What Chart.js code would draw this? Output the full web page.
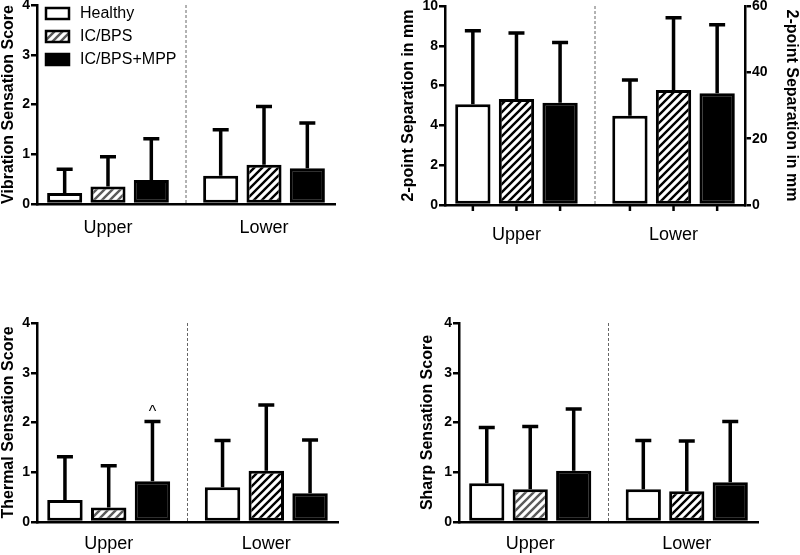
<!DOCTYPE html>
<html>
<head>
<meta charset="utf-8">
<script src="https://cdn.jsdelivr.net/npm/chart.js@4.4.1/dist/chart.umd.min.js"></script>
<style>
  body { margin: 0; background: #fff; width: 800px; height: 555px; position: relative; overflow: hidden; }
  canvas { position: absolute; }
</style>
</head>
<body>
<canvas id="vib" width="400" height="290" style="left:0;top:-10px"></canvas>
<canvas id="twoPoint" width="400" height="290" style="left:400px;top:-10px"></canvas>
<canvas id="thermal" width="400" height="265" style="left:0;top:290px"></canvas>
<canvas id="sharp" width="400" height="265" style="left:400px;top:290px"></canvas>
<script>
// groups and x categories
const groups = ['Healthy', 'IC/BPS', 'IC/BPS+MPP'];
const regions = ['Upper', 'Lower'];

// vibration sensation score (mean, SD)  [Upper, Lower]
const vibHealthy = [0.22, 0.57];
const vibHealthySd = [0.48, 0.92];
const vibIcbps = [0.35, 0.79];
const vibIcbpsSd = [0.60, 1.17];
const vibMpp = [0.48, 0.72];
const vibMppSd = [0.83, 0.91];

// 2-point separation in mm
const tpHealthy = [5.06, 4.49];
const tpHealthySd = [3.70, 1.79];
const tpIcbps = [5.33, 5.78];
const tpIcbpsSd = [3.31, 3.63];
const tpMpp = [5.14, 5.61];
const tpMppSd = [3.03, 3.45];

// thermal sensation score
const thHealthy = [0.44, 0.70];
const thHealthySd = [0.87, 0.94];
const thIcbps = [0.29, 1.03];
const thIcbpsSd = [0.84, 1.32];
const thMpp = [0.82, 0.58];
const thMppSd = [1.20, 1.07];
const thMppMarks = ['^', ''];

// sharp sensation score
const shHealthy = [0.78, 0.66];
const shHealthySd = [1.12, 0.98];
const shIcbps = [0.66, 0.62];
const shIcbpsSd = [1.26, 1.01];
const shMpp = [1.03, 0.80];
const shMppSd = [1.24, 1.22];

Chart.defaults.font.family = "'Liberation Sans', Arial, sans-serif";
Chart.defaults.color = '#000';

function hatch(color) {
  const c = document.createElement('canvas');
  c.width = 8; c.height = 8;
  const g = c.getContext('2d');
  g.fillStyle = '#fff';
  g.fillRect(0, 0, 8, 8);
  g.strokeStyle = color;
  g.lineWidth = 2.4;
  g.beginPath();
  g.moveTo(0, 8); g.lineTo(8, 0);
  g.moveTo(-4, 4); g.lineTo(4, -4);
  g.moveTo(4, 12); g.lineTo(12, 4);
  g.stroke();
  return g.createPattern(c, 'repeat');
}
const grayHatch = hatch('#5a5a5a');
const blackHatch = hatch('#000');

const errorBars = {
  id: 'errorBars',
  beforeDatasetsDraw(chart) {
    const { ctx, chartArea } = chart;
    const xs = chart.scales.x, ys = chart.scales.y;
    // dashed separator between Upper and Lower
    const mx = xs.getPixelForValue(0.5);
    ctx.save();
    ctx.strokeStyle = '#666';
    ctx.lineWidth = 1;
    ctx.setLineDash([3, 2]);
    ctx.beginPath();
    ctx.moveTo(mx, chartArea.top);
    ctx.lineTo(mx, chartArea.bottom);
    ctx.stroke();
    ctx.setLineDash([]);
    ctx.strokeStyle = '#000';
    ctx.lineWidth = 3.5;
    chart.data.datasets.forEach((ds, di) => {
      chart.getDatasetMeta(di).data.forEach((bar, i) => {
        const top = ys.getPixelForValue(ds.data[i].y + ds.sd[i]);
        ctx.beginPath();
        ctx.moveTo(bar.x, bar.y);
        ctx.lineTo(bar.x, top);
        ctx.moveTo(bar.x - 8, top);
        ctx.lineTo(bar.x + 8, top);
        ctx.stroke();
      });
    });
    ctx.restore();
  },
  afterDatasetsDraw(chart, args, opts) {
    const { ctx, chartArea } = chart;
    const ys = chart.scales.y;
    ctx.save();
    chart.data.datasets.forEach((ds, di) => {
      chart.getDatasetMeta(di).data.forEach((bar, i) => {
        if (opts.barTicks) {
          ctx.strokeStyle = '#000';
          ctx.lineWidth = 2.5;
          ctx.beginPath();
          ctx.moveTo(bar.x, chartArea.bottom);
          ctx.lineTo(bar.x, chartArea.bottom + 6);
          ctx.stroke();
        }
        if (ds.marks && ds.marks[i]) {
          const top = ys.getPixelForValue(ds.data[i].y + ds.sd[i]);
          ctx.fillStyle = '#000';
          ctx.font = '16px "Liberation Sans", Arial, sans-serif';
          ctx.textAlign = 'center';
          ctx.textBaseline = 'alphabetic';
          ctx.fillText(ds.marks[i], bar.x, top - 5);
        }
      });
    });
    ctx.restore();
  },
  afterDraw(chart, args, opts) {
    if (!opts.legend) return;
    const { ctx, chartArea } = chart;
    ctx.save();
    chart.data.datasets.forEach((ds, i) => {
      const y = chartArea.top + 3 + i * 23;
      ctx.fillStyle = ds.legendFill;
      ctx.fillRect(chartArea.left + 9, y, 23, 11);
      ctx.strokeStyle = '#000';
      ctx.lineWidth = 2.5;
      ctx.strokeRect(chartArea.left + 9, y, 23, 11);
      ctx.fillStyle = '#000';
      ctx.font = '16px "Liberation Sans", Arial, sans-serif';
      ctx.textAlign = 'left';
      ctx.textBaseline = 'middle';
      ctx.fillText(groups[i], chartArea.left + 43, y + 6);
    });
    ctx.restore();
  }
};

function series(vals) {
  return vals.map((v, i) => ({ x: i, y: v }));
}

function yAxis(title, max, step, width, position) {
  return {
    position: position || 'left',
    min: 0, max: max,
    ticks: { stepSize: step, font: { size: 14, weight: 'bold' }, color: '#000', padding: 1 },
    grid: { drawOnChartArea: false, color: '#000', lineWidth: 2.5, tickLength: 6 },
    border: { color: '#000', width: 2.5 },
    title: { display: true, text: title, color: '#000', padding: 0,
             font: { size: 16, weight: 'bold', lineHeight: 1.1 } },
    afterFit: (a) => { a.width = width; }
  };
}

function panel(id, p) {
  const datasets = [
    { label: groups[0], data: series(p.means[0]), sd: p.sds[0],
      backgroundColor: '#fff', legendFill: '#fff' },
    { label: groups[1], data: series(p.means[1]), sd: p.sds[1],
      backgroundColor: p.hatch, legendFill: grayHatch },
    { label: groups[2], data: series(p.means[2]), sd: p.sds[2], marks: p.marks,
      backgroundColor: '#000', legendFill: '#000' }
  ];
  datasets.forEach(d => {
    d.borderColor = '#000';
    d.borderWidth = 3;
    d.borderSkipped = false;
    d.categoryPercentage = 0.833;
    d.barPercentage = 0.81;
  });
  const scales = {
    x: {
      type: 'linear', min: -0.455, max: 1.455, offset: false,
      grid: { display: false, drawTicks: false },
      border: { color: '#000', width: 2.5 },
      afterBuildTicks: (a) => { a.ticks = regions.map((r, i) => ({ value: i })); },
      afterFit: (a) => { a.height = p.xh; },
      ticks: { callback: (v) => regions[v], font: { size: 18 }, color: '#000',
               padding: p.xpad, maxRotation: 0, autoSkip: false }
    },
    y: yAxis(p.title, p.max, p.step, p.yw)
  };
  if (p.right) scales.y2 = yAxis(p.right.title, p.right.max, p.right.step, p.right.width, 'right');
  new Chart(document.getElementById(id), {
    type: 'bar',
    data: { datasets: datasets },
    options: {
      responsive: false,
      animation: false,
      devicePixelRatio: 1,
      layout: { padding: p.pad },
      scales: scales,
      plugins: {
        legend: { display: false },
        tooltip: { enabled: false },
        errorBars: { legend: !!p.legend, barTicks: !!p.barTicks }
      }
    },
    plugins: [errorBars]
  });
}

panel('vib', {
  title: 'Vibration Sensation Score', max: 4, step: 1, yw: 37,
  means: [vibHealthy, vibIcbps, vibMpp], sds: [vibHealthySd, vibIcbpsSd, vibMppSd],
  hatch: [grayHatch, blackHatch], legend: true,
  xh: 40, xpad: 13, pad: { left: 0, top: 15, right: 65, bottom: 36 }
});

panel('twoPoint', {
  title: '2-point Separation in mm', max: 10, step: 2, yw: 45,
  right: { title: '2-point Separation in mm', max: 60, step: 20, width: 55 },
  means: [tpHealthy, tpIcbps, tpMpp], sds: [tpHealthySd, tpIcbpsSd, tpMppSd],
  hatch: [blackHatch, blackHatch], barTicks: true,
  xh: 40, xpad: 19, pad: { left: 0, top: 16, right: 0, bottom: 35 }
});

panel('thermal', {
  title: 'Thermal Sensation Score', max: 4, step: 1, yw: 37,
  means: [thHealthy, thIcbps, thMpp], sds: [thHealthySd, thIcbpsSd, thMppSd],
  marks: thMppMarks, hatch: [grayHatch, blackHatch],
  xh: 33, xpad: 11, pad: { left: 0, top: 33, right: 62, bottom: 0 }
});

panel('sharp', {
  title: 'Sharp Sensation Score', max: 4, step: 1, yw: 40,
  means: [shHealthy, shIcbps, shMpp], sds: [shHealthySd, shIcbpsSd, shMppSd],
  hatch: [grayHatch, blackHatch],
  xh: 33, xpad: 11, pad: { left: 19, top: 33, right: 42, bottom: 0 }
});
</script>
</body>
</html>
